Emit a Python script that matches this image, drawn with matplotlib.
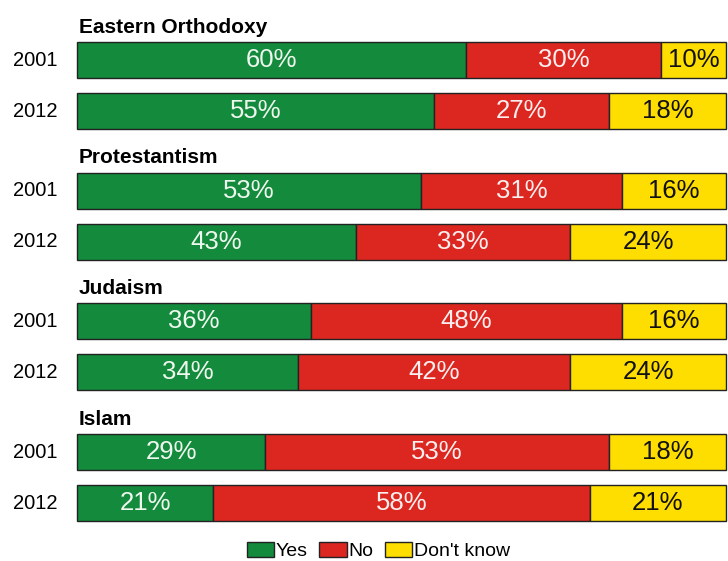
import numpy as np
import matplotlib.pyplot as plt
from matplotlib.patches import Patch

plt.rcParams['font.family'] = ['Liberation Sans', 'DejaVu Sans']

groups = ['Eastern Orthodoxy', 'Protestantism', 'Judaism', 'Islam']
years = ['2001', '2012']
yes = [[60, 55], [53, 43], [36, 34], [29, 21]]
no = [[30, 27], [31, 33], [48, 42], [53, 58]]
dont_know = [[10, 18], [16, 24], [16, 24], [18, 21]]

colors = ['#138a3c', '#dc2620', '#fedd00']
text_colors = ['#eef8ee', '#fbeeee', '#111111']
series_names = ['Yes', 'No', "Don't know"]

fig = plt.figure()
fig.set_size_inches(7.28, 5.61)
ax = fig.add_axes([0, 0, 1, 1])
# x in percent, y in pixel rows
px = 6.49
ax.set_xlim(-77 / px, (728 - 77) / px)
ax.set_ylim(561, 0)
ax.axis('off')

for g, name in enumerate(groups):
    top = 60 + g * 130.7
    ax.text(0.3, top - 33, name, fontsize=15, fontweight='bold', va='center', ha='left')
    for r, yr in enumerate(years):
        yc = top + r * 51
        vals = [yes[g][r], no[g][r], dont_know[g][r]]
        left = 0
        for k, v in enumerate(vals):
            ax.barh(yc, v, left=left, height=36, color=colors[k], edgecolor='#222222', linewidth=1)
            ax.text(left + v / 2, yc, '%d%%' % v, fontsize=18.5, color=text_colors[k],
                    ha='center', va='center')
            left += v
        ax.text(-6.4, yc, yr, fontsize=14.5, ha='center', va='center')

handles = [Patch(facecolor=c, edgecolor='#222222', label=n) for c, n in zip(colors, series_names)]
fig.legend(handles=handles, loc='lower center', bbox_to_anchor=(0.52, -0.03), ncol=3, frameon=False,
           fontsize=14, handlelength=1.4, handleheight=0.8, handletextpad=0.1, columnspacing=0.6)

plt.savefig('out.png', dpi=100)
plt.close()
